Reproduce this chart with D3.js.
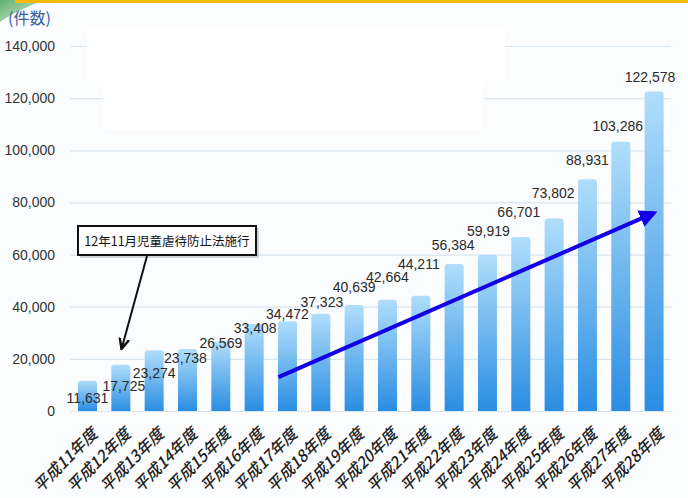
<!DOCTYPE html>
<html>
<head>
<meta charset="utf-8">
<script src="https://cdn.jsdelivr.net/npm/d3@7"></script>
<style>
  html, body { margin: 0; padding: 0; background: #fbfcfd; }
  svg { display: block; }
</style>
</head>
<body>
<div id="chart"></div>
<script>
// Data
const years = ["平成11年度", "平成12年度", "平成13年度", "平成14年度", "平成15年度", "平成16年度",
               "平成17年度", "平成18年度", "平成19年度", "平成20年度", "平成21年度", "平成22年度",
               "平成23年度", "平成24年度", "平成25年度", "平成26年度", "平成27年度", "平成28年度"];
const cases = [11631, 17725, 23274, 23738, 26569, 33408, 34472, 37323, 40639, 42664,
               44211, 56384, 59919, 66701, 73802, 88931, 103286, 122578];
const yTicks = [0, 20000, 40000, 60000, 80000, 100000, 120000, 140000];
const unitLabel = "(件数)";
const noteText = "12年11月児童虐待防止法施行";

// trend arrow, in data terms
const trendFrom = { year: "平成17年度", value: 13000 };
const trendTo = { year: "平成28年度", value: 76000 };
const noteTarget = { year: "平成12年度", value: 24200 };

// label nudges (px) so the value labels sit where they do in the original
const labelDy = [17, 21, 23, 9, 1, 4, -7, -12, -18, -23, -32, -19, -24, -25, -26, -19, -16, -14];
const labelDx = [0, 3, 0, -2, 0, 1, 0, 1, 0, 0, -2, -1, 1, -2, -1, 0, -3, -4];

const W = 688, H = 498;
const numFont = "'Liberation Sans Narrow', 'Arial Narrow', 'Liberation Sans', sans-serif";
const jpFont = "'Noto Sans CJK JP', 'Noto Sans', sans-serif";

const svg = d3.select("#chart").append("svg")
    .attr("width", W)
    .attr("height", H);

const defs = svg.append("defs");
const grad = defs.append("linearGradient")
    .attr("id", "barGrad")
    .attr("x1", 0).attr("y1", 0).attr("x2", 0).attr("y2", 1);
grad.append("stop").attr("offset", "0%").attr("stop-color", "#b0defb");
grad.append("stop").attr("offset", "100%").attr("stop-color", "#2a8de2");

const green = defs.append("linearGradient")
    .attr("id", "greenGrad")
    .attr("x1", 0).attr("y1", 0).attr("x2", 1).attr("y2", 1);
green.append("stop").attr("offset", "0%").attr("stop-color", "#5fb06a");
green.append("stop").attr("offset", "100%").attr("stop-color", "#dff0e0");

defs.append("marker")
    .attr("id", "blueHead")
    .attr("viewBox", "0 0 10 10")
    .attr("refX", 8).attr("refY", 5)
    .attr("markerWidth", 4.5).attr("markerHeight", 4.5)
    .attr("orient", "auto")
    .append("path").attr("d", "M0,0 L10,5 L0,10 z").attr("fill", "#1400e6");

defs.append("marker")
    .attr("id", "blackHead")
    .attr("viewBox", "0 0 10 10")
    .attr("refX", 8).attr("refY", 5)
    .attr("markerWidth", 6).attr("markerHeight", 6)
    .attr("orient", "auto")
    .append("path").attr("d", "M0,1 L9,5 L0,9").attr("fill", "none")
    .attr("stroke", "#111").attr("stroke-width", 2);

// page decoration at the top
svg.append("rect").attr("x", 0).attr("y", 0).attr("width", W).attr("height", H).attr("fill", "#fbfcfd");
svg.append("path")
    .attr("d", "M0,0 L44,0 C30,6 14,12 0,22 Z")
    .attr("fill", "url(#greenGrad)");
svg.append("rect").attr("x", 15).attr("y", 0).attr("width", W - 15).attr("height", 3).attr("fill", "#f6b800");

// scales
const x = d3.scaleBand()
    .domain(years)
    .range([70, 671.6])
    .paddingInner(0.43)
    .paddingOuter(0.24);

const y = d3.scaleLinear()
    .domain([0, 140000])
    .range([411, 46]);

const xc = d => x(d) + x.bandwidth() / 2;

// grid + y axis
const yAxis = d3.axisLeft(y)
    .tickValues(yTicks)
    .tickFormat(d3.format(","))
    .tickSize(-(671 - 70))
    .tickPadding(15);

const gy = svg.append("g")
    .attr("transform", "translate(70,0)")
    .call(yAxis);
gy.select(".domain").remove();
gy.selectAll(".tick line").attr("stroke", "#d9e6f0").attr("stroke-width", 1.2);
gy.selectAll(".tick text")
    .attr("fill", "#333")
    .attr("font-family", numFont)
    .attr("font-size", 14);

// unit label
svg.append("text")
    .attr("x", 8).attr("y", 24)
    .attr("fill", "#3b5fa0")
    .attr("font-family", jpFont)
    .attr("font-size", 16)
    .text(unitLabel);

// blanked-out area
svg.append("rect").attr("x", 87).attr("y", 27).attr("width", 418).attr("height", 54).attr("fill", "#fff");
svg.append("rect").attr("x", 103).attr("y", 80).attr("width", 380).attr("height", 50).attr("fill", "#fff");

// bars
svg.append("g").selectAll("path")
    .data(cases)
    .join("path")
    .attr("fill", "url(#barGrad)")
    .attr("d", (d, i) => {
        const x0 = x(years[i]), w = x.bandwidth(), top = y(d), bot = y(0), r = 3;
        return `M${x0},${bot} L${x0},${top + r} Q${x0},${top} ${x0 + r},${top} L${x0 + w - r},${top} Q${x0 + w},${top} ${x0 + w},${top + r} L${x0 + w},${bot} Z`;
    });

// value labels
svg.append("g").selectAll("text")
    .data(cases)
    .join("text")
    .attr("x", (d, i) => xc(years[i]) + labelDx[i])
    .attr("y", (d, i) => y(d) + labelDy[i])
    .attr("dy", "0.36em")
    .attr("text-anchor", "middle")
    .attr("fill", "#2a2a2a")
    .attr("font-family", numFont)
    .attr("font-size", 14)
    .text(d => d3.format(",")(d));

// x labels, rotated
svg.append("g").selectAll("text")
    .data(years)
    .join("text")
    .attr("transform", d => `translate(${xc(d) + 7},${431}) rotate(-45)`)
    .attr("text-anchor", "end")
    .attr("dy", "0.35em")
    .attr("fill", "#1e1e1e")
    .attr("font-family", jpFont)
    .attr("font-style", "italic")
    .attr("font-weight", 500)
    .attr("font-size", 16)
    .text(d => d);

// trend arrow
svg.append("line")
    .attr("x1", xc(trendFrom.year) - 9).attr("y1", y(trendFrom.value))
    .attr("x2", xc(trendTo.year)).attr("y2", y(trendTo.value))
    .attr("stroke", "#1400e6")
    .attr("stroke-width", 4)
    .attr("marker-end", "url(#blueHead)");

// annotation box
const note = svg.append("g");
note.append("rect")
    .attr("x", 80).attr("y", 228).attr("width", 179).attr("height", 30)
    .attr("fill", "#888").attr("opacity", 0.35);
note.append("rect")
    .attr("x", 78).attr("y", 226).attr("width", 178).attr("height", 29)
    .attr("fill", "#fff").attr("stroke", "#111").attr("stroke-width", 2);
note.append("text")
    .attr("x", 167).attr("y", 241)
    .attr("dy", "0.36em")
    .attr("text-anchor", "middle")
    .attr("fill", "#111")
    .attr("font-family", jpFont)
    .attr("font-size", 12.5)
    .text(noteText);
note.append("line")
    .attr("x1", 147).attr("y1", 256)
    .attr("x2", xc(noteTarget.year) + 1).attr("y2", y(noteTarget.value))
    .attr("stroke", "#111")
    .attr("stroke-width", 2)
    .attr("marker-end", "url(#blackHead)");
</script>
</body>
</html>
